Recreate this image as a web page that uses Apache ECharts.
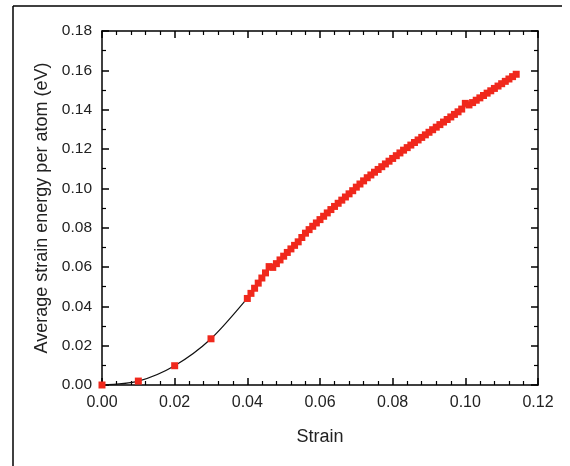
<!DOCTYPE html>
<html>
<head>
<meta charset="utf-8">
<script src="https://cdn.jsdelivr.net/npm/echarts@6/dist/echarts.min.js"></script>
<style>html,body{margin:0;padding:0;background:#fff;}#c{width:570px;height:466px;}</style>
</head>
<body>
<div id="c"></div>
<script>
const strain = [0, 0.01, 0.02, 0.03,
  0.040,0.041,0.042,0.043,0.044,0.045,0.046,0.047,0.048,0.049,
  0.050,0.051,0.052,0.053,0.054,0.055,0.056,0.057,0.058,0.059,
  0.060,0.061,0.062,0.063,0.064,0.065,0.066,0.067,0.068,0.069,
  0.070,0.071,0.072,0.073,0.074,0.075,0.076,0.077,0.078,0.079,
  0.080,0.081,0.082,0.083,0.084,0.085,0.086,0.087,0.088,0.089,
  0.090,0.091,0.092,0.093,0.094,0.095,0.096,0.097,0.098,0.099,
  0.100,0.101,0.102,0.103,0.104,0.105,0.106,0.107,0.108,0.109,
  0.110,0.111,0.112,0.113,0.114];
const energy = [0, 0.0020, 0.0098, 0.0235,
  0.0440,0.0466,0.0492,0.0518,0.0544,0.0570,0.0602,0.0598,0.0617,0.0636,
  0.0655,0.0674,0.0692,0.0710,0.0728,0.0750,0.0772,0.0790,0.0807,0.0824,
  0.0841,0.0858,0.0875,0.0892,0.0908,0.0924,0.0940,0.0956,0.0972,0.0988,
  0.1006,0.1022,0.1038,0.1054,0.1068,0.1082,0.1096,0.1110,0.1124,0.1138,
  0.1152,0.1166,0.1180,0.1194,0.1207,0.1220,0.1233,0.1246,0.1259,0.1272,
  0.1285,0.1298,0.1311,0.1324,0.1337,0.1350,0.1363,0.1376,0.1389,0.1403,
  0.1432,0.1424,0.1436,0.1448,0.1460,0.1472,0.1484,0.1496,0.1508,0.1520,
  0.1532,0.1544,0.1556,0.1568,0.1580];
const xTitle = 'Strain';
const yTitle = 'Average strain energy per atom (eV)';

const font = 'Liberation Sans, Arial, Helvetica, sans-serif';
const data = strain.map((s, i) => [s, energy[i]]);
const axisCommon = {
  axisLine: {show: true, onZero: false, lineStyle: {color: '#000', width: 1.5}},
  axisTick: {show: true, inside: true, length: 7, lineStyle: {color: '#000', width: 1.5}},
  minorTick: {show: true, length: 4, lineStyle: {color: '#000', width: 1.2}},
  splitLine: {show: false}
};
const chart = echarts.init(document.getElementById('c'), null, {renderer: 'canvas'});
chart.setOption({
  animation: false,
  backgroundColor: '#fff',
  grid: {left: 102, right: 32, top: 31, bottom: 81},
  xAxis: [
    Object.assign({}, axisCommon, {
      type: 'value', min: 0, max: 0.12, interval: 0.02, position: 'bottom',
      minorTick: Object.assign({}, axisCommon.minorTick, {splitNumber: 5}),
      axisLabel: {formatter: v => v.toFixed(2), fontSize: 16, color: '#222', fontFamily: font, margin: 10},
      name: xTitle, nameLocation: 'middle', nameGap: 43,
      nameTextStyle: {fontSize: 18, color: '#222', fontFamily: font}
    }),
    Object.assign({}, axisCommon, {
      type: 'value', min: 0, max: 0.12, interval: 0.02, position: 'top',
      minorTick: Object.assign({}, axisCommon.minorTick, {splitNumber: 5}),
      axisLabel: {show: false}
    })
  ],
  yAxis: [
    Object.assign({}, axisCommon, {
      type: 'value', min: 0, max: 0.18, interval: 0.02, position: 'left',
      minorTick: Object.assign({}, axisCommon.minorTick, {splitNumber: 2}),
      axisLabel: {formatter: v => v.toFixed(2), fontSize: 15.5, color: '#222', fontFamily: font, margin: 10},
      name: yTitle, nameLocation: 'middle', nameGap: 48,
      nameTextStyle: {fontSize: 18, color: '#222', fontFamily: font}
    }),
    Object.assign({}, axisCommon, {
      type: 'value', min: 0, max: 0.18, interval: 0.02, position: 'right',
      minorTick: Object.assign({}, axisCommon.minorTick, {splitNumber: 2}),
      axisLabel: {show: false}
    })
  ],
  series: [{
    type: 'line',
    xAxisIndex: 0, yAxisIndex: 0,
    data: data,
    smooth: 0.3,
    lineStyle: {color: '#111', width: 1.2},
    symbol: 'rect',
    symbolSize: 7,
    showAllSymbol: true,
    itemStyle: {color: '#f0281c', borderColor: '#f0281c', borderWidth: 0},
    z: 3
  }],
  graphic: [
    {type: 'line', shape: {x1: 13, y1: 6, x2: 562, y2: 6}, style: {stroke: '#000', lineWidth: 1.5}},
    {type: 'line', shape: {x1: 13, y1: 6, x2: 13, y2: 466}, style: {stroke: '#000', lineWidth: 1.5}}
  ]
});
</script>
</body>
</html>
